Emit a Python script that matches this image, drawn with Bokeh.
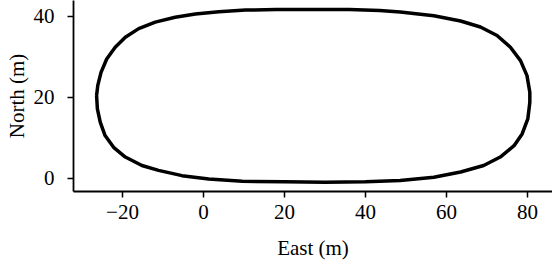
from bokeh.plotting import figure
from bokeh.models import Range1d, FixedTicker
from bokeh.embed import file_html
from bokeh.resources import INLINE

# Track outline (metres)
east = [-26.4, -26.1, -25.3, -23.9, -21.8, -19.3, -16.0, -11.9, -7.0, -2.0, 3.8, 10.4,
        18.0, 27.0, 36.0, 43.5, 48.6, 56.9, 63.5, 68.4, 72.5, 75.8, 78.3, 79.9, 80.6,
        80.6, 80.1, 78.7, 76.7, 73.3, 69.2, 63.5, 56.9, 48.6, 40.0, 30.0, 20.0, 9.6,
        1.3, -5.3, -11.1, -15.2, -19.3, -22.2, -24.3, -25.5, -26.2]
north = [20.5, 23.0, 26.2, 29.5, 32.4, 34.9, 37.0, 38.6, 39.8, 40.6, 41.2, 41.6,
         41.7, 41.7, 41.7, 41.5, 41.1, 40.2, 38.9, 37.4, 35.3, 32.4, 29.1, 25.4, 21.3,
         18.8, 14.7, 11.0, 8.1, 5.3, 3.2, 1.6, 0.3, -0.5, -0.8, -0.9, -0.8, -0.7,
         -0.1, 0.7, 2.0, 3.2, 5.3, 7.7, 10.6, 13.9, 17.2]
east_closed = east + [east[0]]
north_closed = north + [north[0]]

x_ticks = [-20, 0, 20, 40, 60, 80]
x_tick_labels = ["\u221220", "0", "20", "40", "60", "80"]
y_ticks = [0, 20, 40]
y_tick_labels = ["0", "20", "40"]

p = figure(frame_width=479, frame_height=191,
           min_border_left=73, min_border_right=0, min_border_top=0, min_border_bottom=71,
           x_range=Range1d(-32.1, 86.2), y_range=Range1d(-3.21, 43.95),
           output_backend="svg", toolbar_location=None)

p.line(east_closed, north_closed, line_color="black", line_width=3.5, line_join="round")

p.outline_line_color = None
p.xgrid.grid_line_color = None
p.ygrid.grid_line_color = None
p.background_fill_color = "white"
p.border_fill_color = "white"

p.xaxis.ticker = FixedTicker(ticks=x_ticks)
p.yaxis.ticker = FixedTicker(ticks=y_ticks)
p.xaxis.major_label_overrides = {t: l for t, l in zip(x_ticks, x_tick_labels)}
p.yaxis.major_label_overrides = {t: l for t, l in zip(y_ticks, y_tick_labels)}
p.xaxis.axis_label = "East (m)"
p.yaxis.axis_label = "North (m)"

for ax in (p.xaxis[0], p.yaxis[0]):
    ax.axis_line_color = "black"
    ax.axis_line_width = 1.8
    ax.major_tick_line_color = "black"
    ax.major_tick_line_width = 1.5
    ax.major_tick_out = 6
    ax.major_tick_in = 0
    ax.minor_tick_line_color = None
    ax.major_label_text_font = "Liberation Serif"
    ax.major_label_text_font_size = "21px"
    ax.major_label_text_color = "black"
    ax.axis_label_text_font = "Liberation Serif"
    ax.axis_label_text_font_size = "21px"
    ax.axis_label_text_font_style = "normal"
    ax.axis_label_text_color = "black"

p.xaxis.major_label_standoff = 7
p.xaxis.axis_label_standoff = 14
p.yaxis.major_label_standoff = 13
p.yaxis.axis_label_standoff = 2

open("out.html", "w").write(file_html(p, INLINE))
